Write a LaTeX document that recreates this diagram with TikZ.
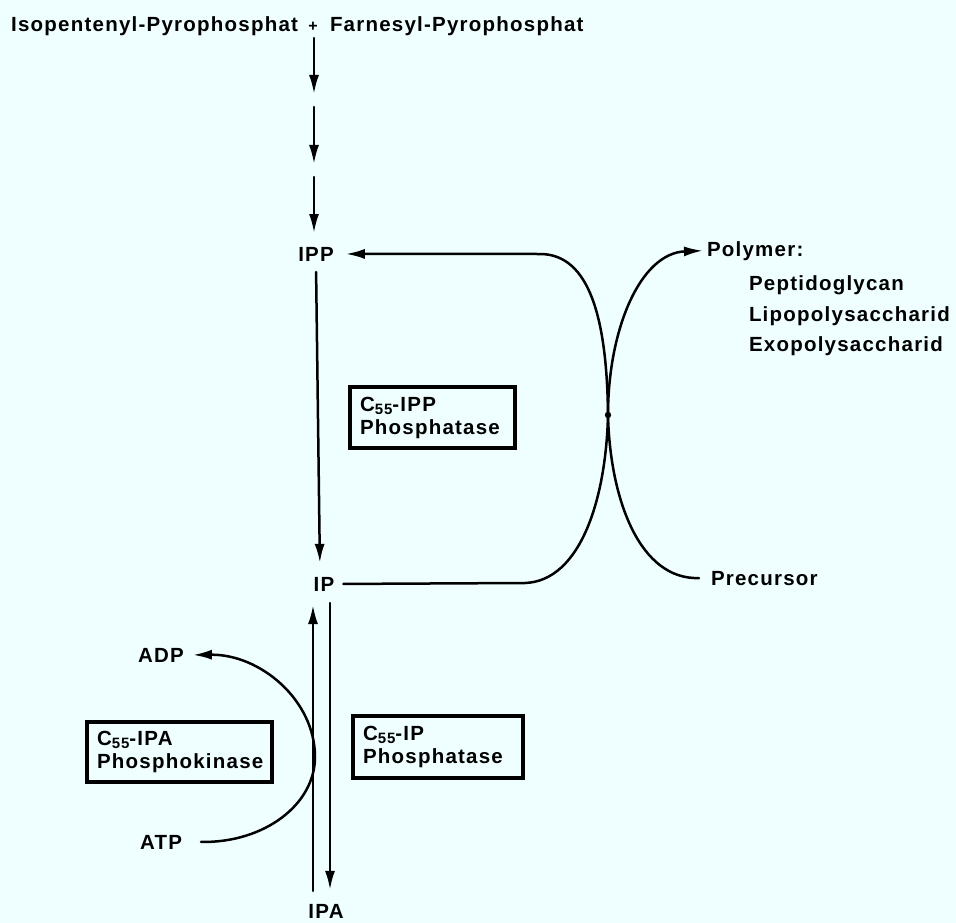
\documentclass[tikz,border=0pt]{standalone}
\usepackage{fontspec}
\setmainfont{Liberation Sans}[LetterSpace=6]
\usetikzlibrary{arrows.meta}
\definecolor{paper}{RGB}{239,255,255}
% C with a lowered subscript 55
\newcommand{\Cff}{C\raisebox{-3pt}{\fontsize{15}{15}\selectfont\bfseries 55}}

\begin{document}
\begin{tikzpicture}[x=1pt,y=-1pt,
  every node/.style={font=\fontsize{20.5}{22}\selectfont\bfseries, inner sep=0pt, outer sep=0pt},
  lbl/.style={inner xsep=10pt, inner ysep=4pt},
  conn/.style={line width=2.5pt, line cap=round},
  arr/.style={conn, -{Latex[length=19pt,width=10pt]}},
  enzbox/.style={draw, line width=3.2pt, anchor=north west, align=left,
    inner xsep=10pt, inner ysep=0pt, font=\fontsize{20.5}{23}\selectfont\bfseries}
]
\fill[paper] (0,0) rectangle (956,923);
\useasboundingbox (0,0) rectangle (956,923);

% substrates
\node[anchor=base east] (ipyro) at (298,32) {Isopentenyl-Pyrophosphat};
\node[anchor=base, font=\fontsize{16}{16}\selectfont\bfseries] (plus) at (313,32) {+};
\node[anchor=base west] (fpyro) at (330,32) {Farnesyl-Pyrophosphat};

% metabolites
\node[lbl, inner xsep=12pt, anchor=base] (ipp) at (316,261) {IPP};
\node[lbl, inner xsep=9pt, anchor=base] (ip) at (324,591) {IP};
\node[lbl, anchor=base] (ipa) at (326,918) {IPA};
\node[lbl, inner xsep=9pt, anchor=base] (adp) at (161,662) {ADP};
\node[lbl, inner xsep=19pt, anchor=base] (atp) at (161,849) {ATP};
\node[lbl, inner xsep=4pt, anchor=base west] (poly) at (703,256) {Polymer:};
\node[anchor=base west] (pg) at (749,290) {Peptidoglycan};
\node[anchor=base west] (lps) at (749,321) {Lipopolysaccharid};
\node[anchor=base west] (eps) at (749,351) {Exopolysaccharid};
\node[lbl, inner xsep=12pt, anchor=base west] (prec) at (699,585) {Precursor};

% enzymes
\node[enzbox, text width=145pt, minimum height=61pt] (ippase) at (350,387) {\Cff-IPP\\Phosphatase};
\node[enzbox, text width=150pt, minimum height=62pt] (ipase) at (353,716) {\Cff-IP\\Phosphatase};
\node[enzbox, text width=165pt, minimum height=60pt] (ipak) at (87,722) {\Cff-IPA\\Phosphokinase};

% biosynthesis steps
\coordinate (a0) at (314,38);
\coordinate (a1) at (314,94);
\coordinate (a2) at (314,107);
\coordinate (a3) at (314,164);
\coordinate (a4) at (314,177);
\coordinate (a5) at (314,233);
\draw[arr] (a0) -- (a1);
\draw[arr] (a2) -- (a3);
\draw[arr] (a4) -- (a5);

% IPP -> IP
\draw[arr, shorten <=7pt, shorten >=10pt] (ipp.south) -- ([xshift=-4pt]ip.north);

% carrier cycle through the junction
\coordinate (jn) at (608,415);
\draw[arr] (jn) .. controls (607,320) and (590,254) .. (540,254) -- (ipp.east);
\draw[arr] (jn) .. controls (608,330) and (640,253) .. (poly.west);
\draw[conn] (ip.east) -- (525,583) .. controls (580,581) and (606,500) .. (jn);
\draw[conn] (jn) .. controls (610,500) and (640,580) .. (prec.west);
\fill (jn) circle (3.2);

% IP <-> IPA
\draw[arr, shorten <=9pt, shorten >=10pt] ([xshift=-13pt]ipa.north) -- ([xshift=-11pt]ip.south);
\draw[arr, shorten <=8pt, shorten >=10pt] ([xshift=6pt]ip.south) -- ([xshift=4pt]ipa.north);

% ATP -> ADP
\draw[arr] (atp.east) .. controls (265,843) and (315,804) .. (315,757)
  .. controls (315,700) and (260,654) .. (adp.east);
\end{tikzpicture}
\end{document}
